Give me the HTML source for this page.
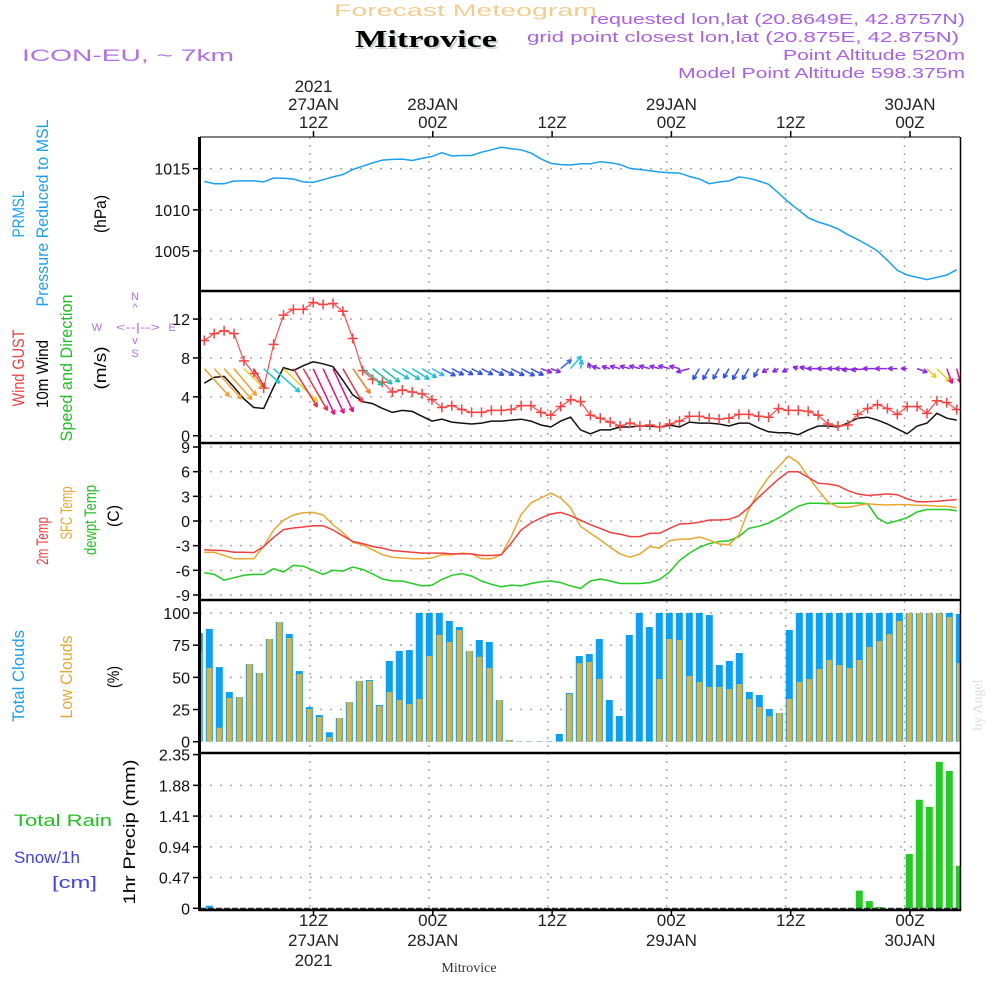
<!DOCTYPE html>
<html><head><meta charset="utf-8"><title>Meteogram Mitrovice</title>
<style>
html,body{margin:0;padding:0;background:#fff;}
svg{display:block;font-family:"Liberation Sans",sans-serif;}
</style></head>
<body>
<svg id="chart" width="1000" height="1000" viewBox="0 0 1000 1000" xmlns="http://www.w3.org/2000/svg">
<rect x="0" y="0" width="1000" height="1000" fill="#fff"/>
<defs><clipPath id="plotclip"><rect x="200" y="137" width="760" height="773"/></clipPath></defs>

<text x="334" y="16" font-size="17" fill="#f2cf90" textLength="263" lengthAdjust="spacingAndGlyphs">Forecast Meteogram</text>
<text x="357" y="49" font-size="24" font-weight="bold" fill="#c8d8c8" textLength="142" lengthAdjust="spacingAndGlyphs" font-family="Liberation Serif, serif">Mitrovice</text>
<text x="355" y="47" font-size="24" font-weight="bold" fill="#000" textLength="142" lengthAdjust="spacingAndGlyphs" font-family="Liberation Serif, serif">Mitrovice</text>
<text x="22" y="61" font-size="17" fill="#b070e8" textLength="212" lengthAdjust="spacingAndGlyphs">ICON-EU, ~ 7km</text>
<g fill="#a860e8" font-size="15">
<text x="590" y="24" textLength="375" lengthAdjust="spacingAndGlyphs">requested lon,lat (20.8649E, 42.8757N)</text>
<text x="527" y="42" textLength="432" lengthAdjust="spacingAndGlyphs">grid point closest lon,lat (20.875E, 42.875N)</text>
<text x="783" y="60" textLength="182" lengthAdjust="spacingAndGlyphs">Point Altitude 520m</text>
<text x="678" y="78" textLength="287" lengthAdjust="spacingAndGlyphs">Model Point Altitude 598.375m</text>
</g>

<g font-size="17">
<text transform="translate(24,214) rotate(-90)" text-anchor="middle" fill="#1aa0f0" textLength="47" lengthAdjust="spacingAndGlyphs">PRMSL</text>
<text transform="translate(48,213) rotate(-90)" text-anchor="middle" fill="#1aa0f0" textLength="187" lengthAdjust="spacingAndGlyphs">Pressure Reduced to MSL</text>
<text transform="translate(106,214) rotate(-90)" text-anchor="middle" fill="#000" textLength="38" lengthAdjust="spacingAndGlyphs">(hPa)</text>
<text transform="translate(24,368) rotate(-90)" text-anchor="middle" fill="#f04040" textLength="77" lengthAdjust="spacingAndGlyphs">Wind GUST</text>
<text transform="translate(48,374) rotate(-90)" text-anchor="middle" fill="#000" textLength="68" lengthAdjust="spacingAndGlyphs">10m Wind</text>
<text transform="translate(72,368) rotate(-90)" text-anchor="middle" fill="#20c020" textLength="147" lengthAdjust="spacingAndGlyphs">Speed and Direction</text>
<text transform="translate(106,368) rotate(-90)" text-anchor="middle" fill="#000" textLength="43" lengthAdjust="spacingAndGlyphs">(m/s)</text>
<text transform="translate(48,541) rotate(-90)" text-anchor="middle" fill="#f04040" textLength="48" lengthAdjust="spacingAndGlyphs">2m Temp</text>
<text transform="translate(72,513) rotate(-90)" text-anchor="middle" fill="#e8a830" textLength="53" lengthAdjust="spacingAndGlyphs">SFC Temp</text>
<text transform="translate(96,520) rotate(-90)" text-anchor="middle" fill="#20c020" textLength="70" lengthAdjust="spacingAndGlyphs">dewpt Temp</text>
<text transform="translate(119,516) rotate(-90)" text-anchor="middle" fill="#000" textLength="22" lengthAdjust="spacingAndGlyphs">(C)</text>
<text transform="translate(24,676) rotate(-90)" text-anchor="middle" fill="#1aa0f0" textLength="92" lengthAdjust="spacingAndGlyphs">Total Clouds</text>
<text transform="translate(72,677) rotate(-90)" text-anchor="middle" fill="#e8a830" textLength="83" lengthAdjust="spacingAndGlyphs">Low Clouds</text>
<text transform="translate(119,677) rotate(-90)" text-anchor="middle" fill="#000" textLength="22" lengthAdjust="spacingAndGlyphs">(%)</text>
<text transform="translate(135,832) rotate(-90)" text-anchor="middle" fill="#000" textLength="145" lengthAdjust="spacingAndGlyphs">1hr Precip (mm)</text>
<text x="14" y="826" fill="#20c020" textLength="98" lengthAdjust="spacingAndGlyphs">Total  Rain</text>
<text x="14" y="863" fill="#4040f0" textLength="66" lengthAdjust="spacingAndGlyphs">Snow/1h</text>
<text x="52" y="888" fill="#4040f0" textLength="45" lengthAdjust="spacingAndGlyphs">[cm]</text>
</g>
<g fill="#b070e0" font-size="11">
<text x="135" y="300" text-anchor="middle">N</text>
<text x="135" y="311" text-anchor="middle">^</text>
<text x="97" y="331" text-anchor="middle">W</text>
<text x="138" y="331" text-anchor="middle" textLength="44" lengthAdjust="spacingAndGlyphs">&lt;--|--&gt;</text>
<text x="172" y="331" text-anchor="middle">E</text>
<text x="135" y="344" text-anchor="middle">v</text>
<text x="135" y="357" text-anchor="middle">S</text>
</g>
<text transform="translate(982,705) rotate(-90)" text-anchor="middle" font-size="14" fill="#ddd" font-family="Liberation Serif, serif">by Angel</text>
<text x="469" y="972" text-anchor="middle" font-size="14" fill="#333" font-family="Liberation Serif, serif">Mitrovice</text>

<g id="grid" clip-path="url(#plotclip)"></g>
<g id="marks" clip-path="url(#plotclip)"></g>
<g id="axes"></g>
</svg>
<script>
// ---- data ----
const topTickLabels = [["2021","27JAN","12Z"],["","28JAN","00Z"],["","","12Z"],["","29JAN","00Z"],["","","12Z"],["","30JAN","00Z"]];
const bottomTickLabels = [["12Z","27JAN","2021"],["00Z","28JAN",""],["12Z","",""],["00Z","29JAN",""],["12Z","",""],["00Z","30JAN",""]];
const pressureTicks = [1015,1010,1005];
const windTicks = [12,8,4,0];
const tempTicks = [9,6,3,0,-3,-6,-9];
const cloudTicks = [100,75,50,25,0];
const precipTicks = [2.35,1.88,1.41,0.94,0.47,0];
const pressure = [1013.46,1013.18,1013.18,1013.5,1013.52,1013.52,1013.4,1013.87,1013.83,1013.75,1013.4,1013.34,1013.66,1014.0,1014.3,1014.9,1015.3,1015.7,1016.05,1016.13,1016.17,1016.0,1016.25,1016.5,1016.94,1016.54,1016.6,1016.6,1017.0,1017.3,1017.6,1017.43,1017.3,1016.9,1016.2,1015.65,1015.5,1015.45,1015.6,1015.6,1015.85,1015.73,1015.5,1015.04,1014.9,1014.76,1014.6,1014.5,1014.47,1014.07,1013.75,1013.18,1013.4,1013.5,1014.0,1013.83,1013.5,1013.1,1012.04,1010.95,1010.0,1009.05,1008.52,1008.16,1007.7,1006.98,1006.38,1005.73,1005.0,1003.87,1002.65,1002.08,1001.8,1001.52,1001.8,1002.08,1002.73];
const windGust = [9.8,10.5,10.8,10.5,7.7,6.4,4.9,9.4,12.4,13,13,13.7,13.5,13.6,12.8,10,6.7,5.8,5.5,4.5,4.7,4.5,4.3,3.7,2.9,3.1,2.7,2.4,2.4,2.6,2.6,2.7,3.1,3.1,2.4,2.1,3.0,3.7,3.5,2.1,1.8,1.4,1.0,1.3,1.0,1.1,0.9,1.2,1.5,2.0,2.0,1.8,1.7,1.8,2.2,2.2,2.0,1.9,2.8,2.6,2.6,2.5,2.1,1.2,1.0,1.1,2.2,2.8,3.2,2.8,2.2,3.0,3.0,2.3,3.6,3.4,2.7];
const wind10m = [5.4,6.0,6.1,5.0,3.8,2.9,2.8,5.0,7.0,6.7,7.2,7.6,7.4,7.1,5.7,4.2,3.5,3.3,2.8,2.4,2.6,2.5,2.0,1.5,1.7,1.4,1.3,1.2,1.3,1.5,1.5,1.6,1.7,1.5,1.1,0.9,1.5,1.9,0.6,0.2,0.6,0.6,0.9,0.9,1.0,1.0,0.9,1.1,0.9,1.4,1.3,1.3,1.2,1.0,1.3,1.3,0.8,0.4,0.3,0.3,0.1,0.6,1.0,1.0,0.9,1.3,1.8,1.9,1.6,1.2,0.7,0.2,1.0,1.3,2.3,1.8,1.6];
const windToDir = [48,48,48,50,44,60,42,42,44,58,60,65,65,65,60,55,40,38,38,32,32,32,32,30,28,28,28,28,28,28,28,28,28,28,20,20,-40,-50,-80,-110,-165,-165,-165,-165,-165,-165,-165,-165,-165,165,120,120,120,120,120,120,120,150,150,150,-160,-170,180,180,180,180,175,175,180,180,180,180,20,45,45,70,75];
const temp2m = [-3.5,-3.55,-3.6,-3.8,-3.8,-3.85,-3.1,-2.0,-1.05,-0.85,-0.73,-0.57,-0.57,-1.1,-1.8,-2.5,-2.75,-3.1,-3.3,-3.6,-3.7,-3.8,-3.9,-3.9,-3.9,-4.0,-4.0,-4.0,-4.2,-4.2,-4.1,-2.7,-1.1,-0.24,0.36,0.85,1.05,0.65,0.1,-0.45,-0.9,-1.4,-1.6,-1.9,-1.9,-1.5,-1.5,-0.9,-0.36,-0.3,-0.16,0.12,0.12,0.2,0.65,1.66,2.9,4.0,5.1,6.0,6.0,5.3,4.6,4.5,4.3,3.7,3.3,3.1,3.2,3.3,3.2,2.7,2.35,2.35,2.4,2.5,2.6];
const tempSfc = [-3.8,-3.8,-4.2,-4.6,-4.6,-4.6,-3.1,-1.1,0.1,0.73,1.0,1.05,0.73,-0.45,-1.4,-2.6,-2.9,-3.5,-4.1,-4.4,-4.5,-4.6,-4.6,-4.5,-4.1,-4.1,-3.9,-4.0,-4.6,-4.6,-4.1,-1.9,0.77,2.2,2.8,3.4,2.8,1.6,-0.65,-1.5,-2.3,-3.2,-4.0,-4.4,-4.0,-3.1,-3.3,-2.4,-2.2,-2.2,-1.95,-2.3,-2.8,-2.9,-1.7,1.4,3.6,5.3,6.6,7.9,7.1,5.4,3.8,2.3,1.7,1.66,1.9,2.1,2.0,1.95,2.0,2.0,1.9,1.9,1.8,1.8,1.6];
const dewpoint = [-6.3,-6.5,-7.2,-6.9,-6.6,-6.5,-6.5,-5.8,-6.2,-5.4,-5.5,-6.0,-6.5,-6.0,-6.1,-5.6,-5.9,-6.45,-7.05,-7.3,-7.3,-7.6,-7.9,-7.8,-7.1,-6.6,-6.4,-6.7,-7.3,-7.7,-8.0,-7.8,-7.9,-7.6,-7.4,-7.3,-7.5,-7.9,-8.2,-7.3,-7.05,-7.3,-7.6,-7.6,-7.6,-7.5,-7.1,-6.2,-4.8,-3.9,-3.2,-2.75,-2.5,-2.4,-1.9,-0.9,-0.65,-0.24,0.36,1.1,1.8,2.15,2.15,2.1,2.15,2.15,2.2,2.1,0.36,-0.3,0.04,0.4,1.1,1.4,1.4,1.4,1.25];
const totalClouds = [84.5,87.6,58,38.6,34.7,60.4,53.4,79.8,93,83.7,54.9,26.9,20.7,7.3,18.4,30.8,47.2,47.9,28.5,62.7,70.5,71.2,100,100,100,93.8,89.1,70.5,79,77.5,32.4,1.3,0.3,0.3,0.3,0.3,6,37.8,66.6,68.1,79.8,32.4,20,82.9,100,89.1,100,100,100,100,100,98.4,59.6,62.7,68.9,38.6,36.3,25.4,22.3,86.8,100,100,100,100,100,100,100,100,100,100,100,100,100,100,100,100,99.2];
const lowClouds = [70.2,57.3,10.9,34,34.7,60.4,53.4,79.8,93,80.6,52.6,25.4,19.2,3.6,18.4,30.8,47.2,47.2,27.7,38.6,32.4,29.3,33.2,66.6,83,77.5,86.8,70.5,66,57.3,32.4,1.3,0.3,0.3,0.3,0.3,0.3,37,61,62,48.7,0.3,0.3,0.3,0.3,0.3,48.7,79.8,79,51.1,46.4,42.5,42.5,40.9,44.8,33.2,27,19.7,22.3,33.2,46.4,48.7,56.5,63.5,59.6,57.3,63.5,73.6,78.2,83.6,93.8,100,100,100,100,96.9,61];
const precip = [0,0.04,0,0,0,0,0,0,0,0,0,0,0,0,0,0,0,0,0,0,0,0,0,0,0,0,0,0,0,0,0,0,0,0,0,0,0,0,0,0,0,0,0,0,0,0,0,0,0,0,0,0,0,0,0,0,0,0,0,0,0,0,0,0,0,0,0.27,0.11,0.02,0,0,0.83,1.66,1.55,2.24,2.10,0.65];

// ---- scales ----
const NS='http://www.w3.org/2000/svg';
const xs = k => 204.3 + 9.9*k;
const xb = i => 199.3 + 10*i;
const gridX = j => 310 + 118.9*j;
const tickX = j => 313.5 + 119.3*j;
const yP = p => 168.7 + (1015-p)*8.23;
const yW = v => 435.7 - 9.72*v;
const yT = t => 521 - 8.22*t;
const yC = c => 741.7 - 1.287*c;
const yR = r => 908.3 - 65.4*r;

function el(tag, attrs, parent){const e=document.createElementNS(NS,tag);for(const a in attrs)e.setAttribute(a,attrs[a]);parent.appendChild(e);return e;}
const grid=document.getElementById('grid'), marks=document.getElementById('marks'), axes=document.getElementById('axes');

for(let j=0;j<6;j++){
  const l=el('line',{x1:gridX(j),x2:gridX(j),y1:137,y2:910,stroke:'#aaa','stroke-width':1.5,'stroke-dasharray':'2 6'},grid);
  
  
}
function hgrid(y){const l=el('line',{x1:200,x2:960,y1:y,y2:y,stroke:'#aaa','stroke-width':1.5,'stroke-dasharray':'2 8'},grid);
  
  }
pressureTicks.forEach(p=>hgrid(yP(p)));
windTicks.forEach(v=>hgrid(yW(v)));
tempTicks.forEach(t=>hgrid(yT(t)));
cloudTicks.slice(0,4).forEach(c=>hgrid(yC(c)));
precipTicks.slice(1,5).forEach(r=>hgrid(yR(r)));

function ytick(y,label,name){
  const t=el('text',{x:190,y:y+6,'text-anchor':'end','font-size':16,fill:'#111'},axes);t.textContent=label;
  
  
  el('line',{x1:193,x2:200,y1:y,y2:y,stroke:'#000','stroke-width':1.5},axes);
}
pressureTicks.forEach(p=>ytick(yP(p),String(p),'pressure-tick'));
windTicks.forEach(v=>ytick(yW(v),String(v),'wind-tick'));
tempTicks.forEach(t=>ytick(yT(t),String(t),'temp-tick'));
cloudTicks.forEach(c=>ytick(yC(c),String(c),'cloud-tick'));
precipTicks.forEach(r=>ytick(yR(r),r===0?'0':r.toFixed(2),'precip-tick'));

topTickLabels.forEach((lab,j)=>{
  lab.forEach((s,r)=>{ if(!s) return;
    const t=el('text',{x:tickX(j),y:92+r*18,'text-anchor':'middle','font-size':17,fill:'#222'},axes);t.textContent=s;
    
    });
  el('line',{x1:tickX(j),x2:tickX(j),y1:131,y2:137,stroke:'#000','stroke-width':1.5},axes);
});
bottomTickLabels.forEach((lab,j)=>{
  lab.forEach((s,r)=>{ if(!s) return;
    const t=el('text',{x:tickX(j),y:926+r*20,'text-anchor':'middle','font-size':17,fill:'#222'},axes);t.textContent=s;
    
    });
  el('line',{x1:tickX(j),x2:tickX(j),y1:910,y2:916,stroke:'#000','stroke-width':1.5},axes);
});

function polyline(vals,yf,color,name,w){
  const pts=vals.map((v,k)=>xs(k).toFixed(1)+','+yf(v).toFixed(1)).join(' ');
  const p=el('polyline',{points:pts,fill:'none',stroke:color,'stroke-width':w||1.5},marks);
  
  
}
polyline(pressure,yP,'#1aa0f0','pressure-line');

totalClouds.forEach((c,i)=>{
  const r=el('rect',{x:xb(i)-3.5,y:yC(c),width:7,height:yC(0)-yC(c),fill:'#0aa0f5'},marks);
  
  
});
lowClouds.forEach((c,i)=>{
  const r=el('rect',{x:xb(i)-2.5,y:yC(c),width:5,height:yC(0)-yC(c),fill:'#e8b030'},marks);
  
  
});
precip.forEach((v,i)=>{ if(v<=0) return;
  const r=el('rect',{x:xb(i)-3.5,y:yR(v),width:7,height:yR(0)-yR(v),fill:i<10?'#1aa0f0':'#22cc22'},marks);
  
  
});
el('line',{x1:200,x2:960,y1:908.5,y2:908.5,stroke:'#333','stroke-width':1.5,'stroke-dasharray':'6 2'},marks);

polyline(dewpoint,yT,'#22cc22','dewpoint-line');
polyline(tempSfc,yT,'#e8a830','sfc-temp-line');
polyline(temp2m,yT,'#f04040','temp-2m-line');

polyline(wind10m,yW,'#111','wind-10m-line');
polyline(windGust,yW,'#ff5050','wind-gust-line',1.2);
windGust.forEach((v,k)=>{
  const x=xs(k),y=yW(v);
  const g=el('path',{d:`M${x-5},${y}H${x+5}M${x},${y-5}V${y+5}`,stroke:'#ff4040','stroke-width':1.5},marks);
  
  
});
function arrowColor(a){
  if(a>90||a<-90) return a>100&&a<140?'#3050f0':'#8a2be2';
  if(a<-60) return '#20b8f0';
  if(a<0) return a<-45?'#20c8e0':'#3070f0';
  if(a>=63) return '#e81080';
  if(a>=57) return '#f03040';
  if(a>=52) return '#f08020';
  if(a>=47) return '#f0a030';
  if(a>=43) return '#e8d020';
  if(a>=41) return '#20c8c8';
  if(a>=36) return '#20c0a0';
  if(a>=31) return '#20c0d0';
  if(a>=29) return '#40b0f0';
  if(a>=25) return '#3050f0';
  return '#8a2be2';
}
windToDir.forEach((a,k)=>{
  const x0=xs(k),y0=yW(6.9);
  const L=6*wind10m[k]+5, r=a*Math.PI/180;
  const x1=x0+L*Math.cos(r), y1=y0+L*Math.sin(r);
  const h1=r+Math.PI-0.45, h2=r+Math.PI+0.45, hl=5;
  const d=`M${x0},${y0}L${x1},${y1}M${x1},${y1}L${x1+hl*Math.cos(h1)},${y1+hl*Math.sin(h1)}M${x1},${y1}L${x1+hl*Math.cos(h2)},${y1+hl*Math.sin(h2)}`;
  const p=el('path',{d:d,stroke:arrowColor(a),'stroke-width':1.5,fill:'none'},marks);
  
  
});

function frame(x1,y1,x2,y2,w,name){const l=el('line',{x1:x1,y1:y1,x2:x2,y2:y2,stroke:'#000','stroke-width':w},axes);
  
  }
frame(200,137,960,137,1,'panel-top-border');
[291,443,600,753].forEach(y=>frame(199,y,961,y,2.5,'panel-separator'));
frame(199,910,961,910,2.5,'panel-bottom-border');
frame(199.5,137,199.5,911,3,'left-axis');
frame(960.5,137,960.5,911,1.5,'right-axis');
</script>
</body></html>
